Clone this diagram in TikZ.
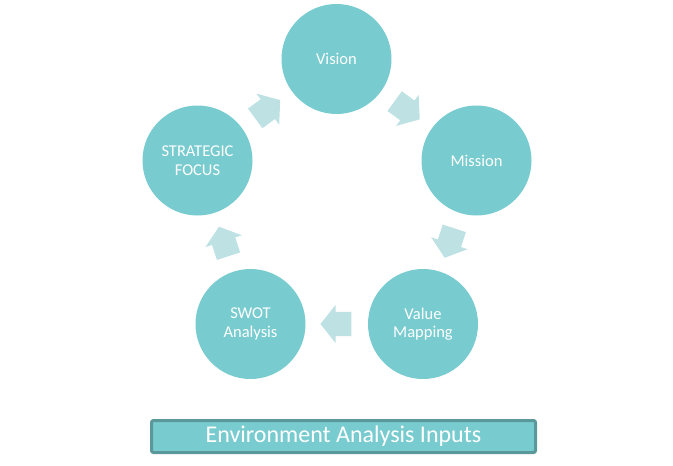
\documentclass[tikz,border=0pt]{standalone}
\usepackage{fontspec}
\setmainfont{Carlito}
\usetikzlibrary{shapes.arrows,calc,positioning}
\definecolor{tealfill}{HTML}{78CBCF}
\definecolor{tealpale}{HTML}{BEE2E4}
\definecolor{tealdark}{HTML}{5A9899}
\tikzstyle{stage} = [circle, minimum size=110pt, inner sep=0pt, fill=tealfill, text=white, align=center, font=\fontsize{16.5}{18.5}\selectfont]
\tikzstyle{cyclearrow} = [single arrow, fill=tealpale, minimum height=31pt, minimum width=38pt, single arrow head extend=7pt, single arrow tip angle=103, inner xsep=0pt, inner ysep=12pt]
\tikzstyle{banner} = [rectangle, rounded corners=2pt, minimum width=384pt, minimum height=32pt, draw=tealdark, line width=3pt, fill=tealfill, text=white, font=\fontsize{24}{27}\selectfont]

\begin{document}
\begin{tikzpicture}[x=1pt, y=-1pt]
\useasboundingbox (0,0) rectangle (673,466);
\node (vision) [stage] at (336.5,59) {Vision};
\node (mission) [stage] at (476.5,160.5) {Mission};
\node (value) [stage] at (423,324) {Value\\Mapping};
\node (swot) [stage] at (250.5,324) {SWOT\\Analysis};
\node (strat) [stage] at (197.5,160.5) {STRATEGIC\\FOCUS};

% block arrows half way between the circles
\foreach \a/\b in {strat/vision, vision/mission, mission/value, value/swot, swot/strat}
  \path let \p1=($(\b)-(\a)$), \n1={atan2(\y1,\x1)} in
    node (arr-\a) [cyclearrow, rotate=\n1] at ($(\a)!0.5!(\b)!4pt!(\a)$) {};

\node (inputs) [banner] at (343.5,436.5) {Environment Analysis Inputs};
\end{tikzpicture}
\end{document}
